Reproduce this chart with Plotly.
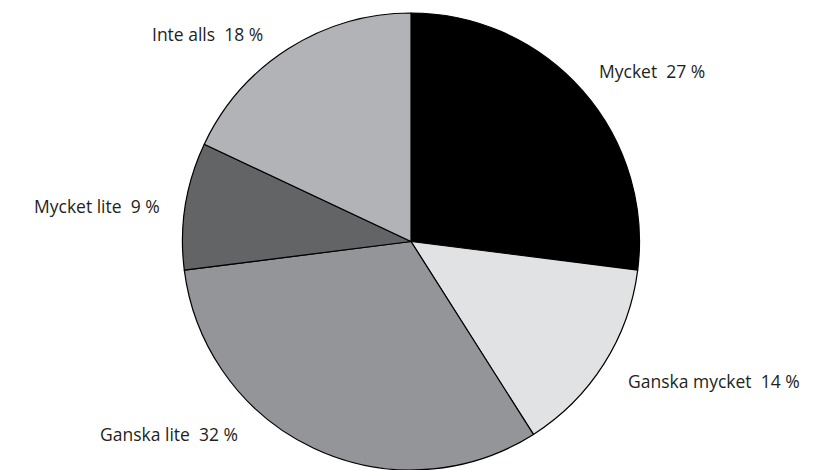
import plotly.graph_objects as go

categories = ["Mycket", "Ganska mycket", "Ganska lite", "Mycket lite", "Inte alls"]
values = [27, 14, 32, 9, 18]
colors = ["#000000", "#e1e2e3", "#939598", "#636466", "#b1b3b6"]

# label anchor positions in pixels (x center, y center)
label_pos = [(652, 71), (714, 381), (169, 434), (97, 206), (207, 34)]

W, H = 814, 470
ML, MR, MT, MB = 8, 0, 13, 0
fig = go.Figure(go.Pie(
    labels=categories, values=values, sort=False, direction="clockwise",
    rotation=0, marker=dict(colors=colors, line=dict(color="#000000", width=1.2)),
    textinfo="none", hoverinfo="label+percent", showlegend=False,
))

for cat, val, (px, py) in zip(categories, values, label_pos):
    fig.add_annotation(
        x=(px - ML) / (W - ML - MR), y=1 - (py - MT) / (H - MT - MB),
        xref="paper", yref="paper",
        text=f"{cat}\u00a0\u00a0{val}\u00a0%", showarrow=False,
        xanchor="center", yanchor="middle",
        font=dict(family="Open Sans", size=17.5, color="#231f20"),
    )

fig.update_layout(
    width=W, height=H, margin=dict(l=ML, r=MR, t=MT, b=MB),
    paper_bgcolor="white", plot_bgcolor="white",
)
fig.write_html("out.html")
